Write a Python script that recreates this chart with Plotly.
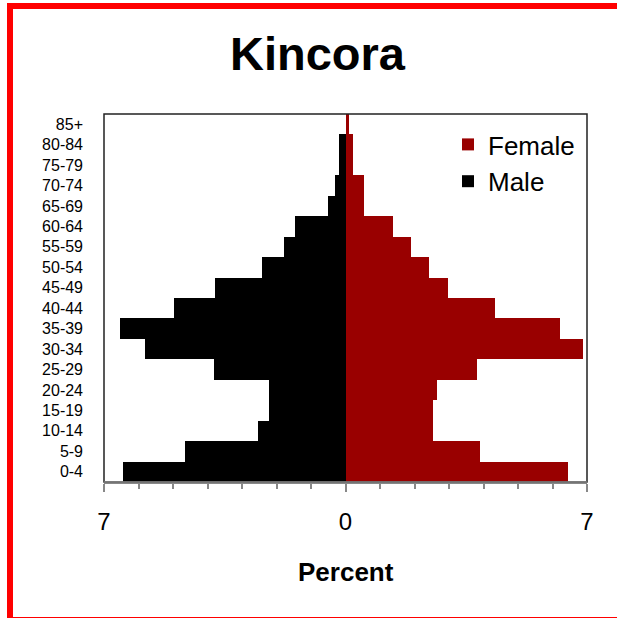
import plotly.graph_objects as go

age_groups = ["0-4", "5-9", "10-14", "15-19", "20-24", "25-29", "30-34", "35-39",
              "40-44", "45-49", "50-54", "55-59", "60-64", "65-69", "70-74",
              "75-79", "80-84", "85+"]
male_pct = [6.44, 4.64, 2.54, 2.22, 2.22, 3.80, 5.80, 6.55, 4.97, 3.79, 2.42,
            1.77, 1.47, 0.51, 0.30, 0.19, 0.19, 0.0]
female_pct = [6.45, 3.91, 2.55, 2.55, 2.64, 3.81, 6.88, 6.23, 4.34, 2.96, 2.43,
              1.90, 1.37, 0.53, 0.53, 0.21, 0.21, 0.10]
tick_vals = [-7, 0, 7]
tick_text = ["7", "0", "7"]

FONT = "Arial, Liberation Sans, sans-serif"
W, H = 617, 618
L, R, T, B = 104, 30, 114, 136
PW, PH = W - L - R, H - T - B


def px_x(px):
    return (px - L) / PW


def px_y(py):
    return (H - B - py) / PH


fig = go.Figure()
fig.add_trace(go.Bar(y=age_groups, x=female_pct, orientation="h", name="Female",
                     marker=dict(color="#990000", line=dict(width=0)),
                     legendgroup="f", hoverinfo="skip"))
fig.add_trace(go.Bar(y=age_groups, x=[-v for v in male_pct], orientation="h", name="Male",
                     marker=dict(color="#000000", line=dict(width=0)),
                     legendgroup="m", hoverinfo="skip"))

fig.update_layout(
    width=W, height=H,
    margin=dict(l=L, r=R, t=T, b=B, pad=0),
    paper_bgcolor="white", plot_bgcolor="white",
    barmode="overlay", bargap=0,
    font=dict(family=FONT, color="black"),
    showlegend=True,
    legend=dict(x=px_x(448), y=px_y(121), xanchor="left", yanchor="top",
                font=dict(size=26, family=FONT, color="black"),
                bgcolor="rgba(0,0,0,0)", tracegroupgap=5, traceorder="normal"),
    xaxis=dict(range=[-7, 7], tickvals=tick_vals, ticktext=tick_text,
               ticks="outside", ticklen=8, tickwidth=1.5, tickcolor="#888888",
               minor=dict(dtick=1, ticks="outside", ticklen=5, tickwidth=1.5,
                          tickcolor="#888888", showgrid=False),
               showline=True, linecolor="#888888", linewidth=1.5,
               showgrid=False, zeroline=False,
               tickfont=dict(size=24, family=FONT, color="black"),
               ticklabelstandoff=9, fixedrange=True),
    yaxis=dict(categoryorder="array", categoryarray=age_groups,
               ticks="", showgrid=False, zeroline=False, showline=False,
               tickfont=dict(size=16, family=FONT, color="black"),
               ticklabelstandoff=20, fixedrange=True),
    shapes=[
        dict(type="rect", xref="paper", yref="paper", x0=0, x1=1, y0=0, y1=1,
             line=dict(color="#222222", width=1.5), layer="above"),
        dict(type="line", xref="paper", yref="paper", x0=0, x1=1, y0=0, y1=0,
             line=dict(color="#888888", width=1.5), layer="above"),
        dict(type="rect", xref="paper", yref="paper",
             x0=px_x(10), x1=px_x(625), y0=px_y(6), y1=px_y(620),
             line=dict(color="#ff0000", width=6), layer="above"),
    ],
    annotations=[
        dict(text="<b>Kincora</b>", xref="paper", yref="paper",
             x=px_x(318), y=px_y(53), xanchor="center", yanchor="middle",
             showarrow=False, font=dict(size=47, family=FONT, color="black")),
        dict(text="<b>Percent</b>", xref="paper", yref="paper",
             x=0.5, y=px_y(572), xanchor="center", yanchor="middle",
             showarrow=False, font=dict(size=26, family=FONT, color="black")),
    ],
)

fig.write_html("out.html", config={"displayModeBar": False},
               post_script="document.body.style.margin='0';document.body.style.overflow='hidden';")
